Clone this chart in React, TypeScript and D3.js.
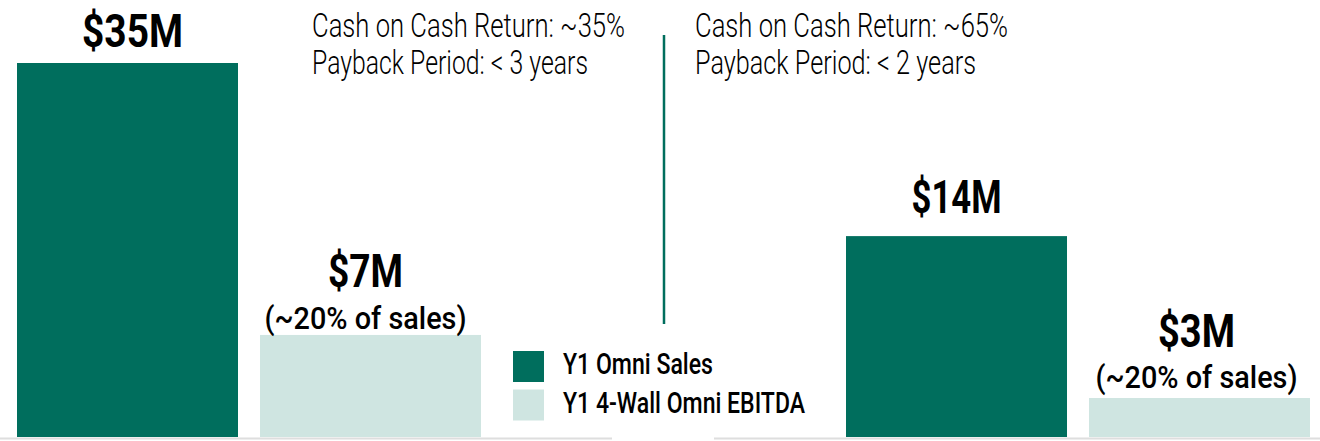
import React from "react";
import * as d3 from "d3";

// ---- data ----
const panels = ["Panel A", "Panel B"];
const seriesKeys = ["Y1 Omni Sales", "Y1 4-Wall Omni EBITDA"];
const salesValues = [35, 18.8]; // bar heights as drawn
const ebitdaValues = [9.55, 3.65];
const salesLabels = ["$35M", "$14M"];
const ebitdaLabels = ["$7M", "$3M"];
const ebitdaNotes = ["(~20% of sales)", "(~20% of sales)"];
const returnLines = ["Cash on Cash Return: ~35%", "Cash on Cash Return: ~65%"];
const paybackLines = ["Payback Period: < 3 years", "Payback Period: < 2 years"];

const W = 1320;
const H = 441;
const DARK = "#006E5D";
const LIGHT = "#CFE5E1";
const FONT = "Roboto, 'DejaVu Sans', sans-serif";

export default function App() {
  const y = d3.scaleLinear().domain([0, 35]).range([437, 63]);
  const panelX = d3
    .scaleBand<string>()
    .domain(panels)
    .range([17, 1310])
    .paddingInner(0.4403)
    .paddingOuter(0);
  const inner = d3
    .scaleBand<string>()
    .domain(seriesKeys)
    .range([0, panelX.bandwidth()])
    .paddingInner(0.0905)
    .paddingOuter(0);
  const bw = inner.bandwidth();

  const salesLabelW = [101, 90];
  const ebitdaLabelW = [75, 77];
  const salesOff = [16, 23];
  const ebitdaOff = [48, 51];
  const noteOff = [6, 10];
  const textX = [312, 695];
  const retW = [313, 313];
  const payW = [276, 281];

  return (
    <svg
      width={W}
      height={H}
      style={{ position: "absolute", left: 0, top: 0, background: "#fff" }}
      fontFamily={FONT}
    >
      {/* baseline segments */}
      <line x1={0} x2={612} y1={438.5} y2={438.5} stroke="#DEDEDE" strokeWidth={2} />
      <line x1={714} x2={1320} y1={438.5} y2={438.5} stroke="#DEDEDE" strokeWidth={2} />

      {panels.map((p, i) => {
        const x0 = panelX(p)!;
        const xs = x0 + inner(seriesKeys[0])!;
        const xe = x0 + inner(seriesKeys[1])!;
        const ys = y(salesValues[i]);
        const ye = y(ebitdaValues[i]);
        return (
          <g key={p}>
            <rect x={xs} y={ys} width={bw} height={y(0) - ys} fill={DARK} />
            <rect x={xe} y={ye} width={bw} height={y(0) - ye} fill={LIGHT} />
            <text
              x={xs + bw / 2 + (i === 0 ? 5 : 0)}
              y={ys - salesOff[i]}
              textAnchor="middle"
              fontSize={47}
              fontWeight={700}
              textLength={salesLabelW[i]}
              lengthAdjust="spacingAndGlyphs"
              fill="#000"
            >
              {salesLabels[i]}
            </text>
            <text
              x={xe + bw / 2 - (i === 0 ? 5 : 3)}
              y={ye - ebitdaOff[i]}
              textAnchor="middle"
              fontSize={47}
              fontWeight={700}
              textLength={ebitdaLabelW[i]}
              lengthAdjust="spacingAndGlyphs"
              fill="#000"
            >
              {ebitdaLabels[i]}
            </text>
            <text
              x={xe + bw / 2 - (i === 0 ? 5 : 3)}
              y={ye - noteOff[i]}
              textAnchor="middle"
              fontSize={32}
              fontWeight={500}
              textLength={202}
              lengthAdjust="spacingAndGlyphs"
              fill="#000"
            >
              {ebitdaNotes[i]}
            </text>
            <text
              x={textX[i]}
              y={37}
              fontSize={33}
              fontWeight={300}
              textLength={retW[i]}
              lengthAdjust="spacingAndGlyphs"
              fill="#000"
            >
              {returnLines[i]}
            </text>
            <text
              x={textX[i]}
              y={74}
              fontSize={33}
              fontWeight={300}
              textLength={payW[i]}
              lengthAdjust="spacingAndGlyphs"
              fill="#000"
            >
              {paybackLines[i]}
            </text>
          </g>
        );
      })}

      {/* divider */}
      <line x1={664} x2={664} y1={35} y2={324} stroke={DARK} strokeWidth={2.5} />

      {/* legend */}
      {seriesKeys.map((k, i) => (
        <g key={k} transform={`translate(513, ${351 + i * 38.5})`}>
          <rect width={31} height={31} fill={i === 0 ? DARK : LIGHT} />
          <text
            x={50}
            y={23}
            fontSize={29}
            fontWeight={500}
            textLength={i === 0 ? 150 : 242}
            lengthAdjust="spacingAndGlyphs"
            fill="#000"
          >
            {k}
          </text>
        </g>
      ))}
    </svg>
  );
}
